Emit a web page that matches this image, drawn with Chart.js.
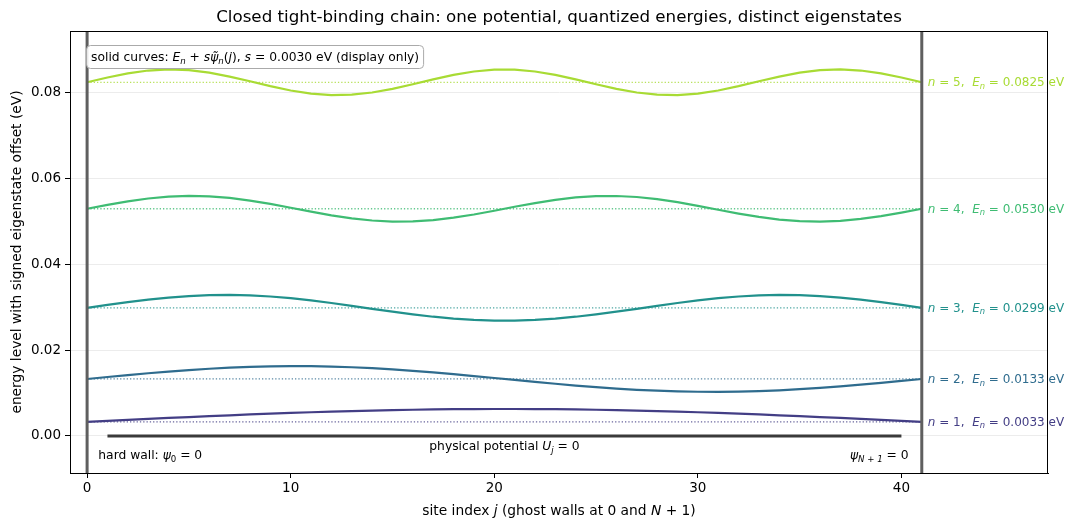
<!DOCTYPE html>
<html>
<head>
<meta charset="utf-8">
<script src="https://cdn.jsdelivr.net/npm/chart.js@4.4.1/dist/chart.umd.min.js"></script>
<style>
    body { margin: 0; background: #fff; }
    canvas { display: block; }
</style>
</head>
<body>
<canvas id="chainChart" width="1074" height="530"></canvas>
<script>
// Site indices j = 0 .. N+1 (N = 40, ghost walls at 0 and 41).
const sites = [0, 1, 2, 3, 4, 5, 6, 7, 8, 9, 10, 11, 12, 13, 14, 15, 16, 17, 18, 19, 20,
    21, 22, 23, 24, 25, 26, 27, 28, 29, 30, 31, 32, 33, 34, 35, 36, 37, 38, 39, 40, 41];

const modes = [1, 2, 3, 4, 5];
const energies = [0.0033, 0.0133, 0.0299, 0.0530, 0.0825];

// Solid curves: E_n + s * psi_n(j)
const curve1 = [0.0033, 0.00353, 0.00376, 0.00398, 0.00421, 0.00442, 0.00463, 0.00483, 0.00503, 0.00521,
    0.00538, 0.00554, 0.00569, 0.00582, 0.00594, 0.00604, 0.00612, 0.00619, 0.00625, 0.00628, 0.00630,
    0.00630, 0.00628, 0.00625, 0.00619, 0.00612, 0.00604, 0.00594, 0.00582, 0.00569, 0.00554,
    0.00538, 0.00521, 0.00503, 0.00483, 0.00463, 0.00442, 0.00421, 0.00398, 0.00376, 0.00353, 0.0033];
const curve2 = [0.0133, 0.01376, 0.01421, 0.01463, 0.01503, 0.01538, 0.01569, 0.01594, 0.01612, 0.01625,
    0.01630, 0.01628, 0.01619, 0.01604, 0.01582, 0.01554, 0.01521, 0.01483, 0.01442, 0.01398, 0.01353,
    0.01307, 0.01262, 0.01218, 0.01177, 0.01139, 0.01106, 0.01078, 0.01056, 0.01041, 0.01032,
    0.01030, 0.01036, 0.01048, 0.01066, 0.01092, 0.01122, 0.01157, 0.01197, 0.01240, 0.01284, 0.0133];
const curve3 = [0.0299, 0.03058, 0.03123, 0.03181, 0.03229, 0.03264, 0.03285, 0.03290, 0.03279, 0.03254,
    0.03214, 0.03163, 0.03102, 0.03036, 0.02967, 0.02900, 0.02837, 0.02782, 0.02738, 0.02708, 0.02692,
    0.02692, 0.02708, 0.02738, 0.02782, 0.02837, 0.02900, 0.02967, 0.03036, 0.03102, 0.03163,
    0.03214, 0.03254, 0.03279, 0.03290, 0.03285, 0.03264, 0.03229, 0.03181, 0.03123, 0.03058, 0.0299];
const curve4 = [0.0530, 0.05391, 0.05473, 0.05539, 0.05582, 0.05600, 0.05589, 0.05552, 0.05491, 0.05412,
    0.05323, 0.05232, 0.05147, 0.05076, 0.05026, 0.05002, 0.05006, 0.05036, 0.05092, 0.05167, 0.05254,
    0.05346, 0.05433, 0.05508, 0.05564, 0.05594, 0.05598, 0.05574, 0.05524, 0.05453, 0.05368,
    0.05277, 0.05188, 0.05109, 0.05048, 0.05011, 0.05000, 0.05018, 0.05062, 0.05127, 0.05210, 0.0530];
const curve5 = [0.0825, 0.08362, 0.08458, 0.08524, 0.08550, 0.08532, 0.08474, 0.08383, 0.08273, 0.08160,
    0.08059, 0.07986, 0.07952, 0.07961, 0.08012, 0.08097, 0.08204, 0.08318, 0.08423, 0.08502, 0.08545,
    0.08545, 0.08502, 0.08423, 0.08318, 0.08204, 0.08097, 0.08012, 0.07961, 0.07952, 0.07986,
    0.08059, 0.08160, 0.08273, 0.08383, 0.08474, 0.08532, 0.08550, 0.08524, 0.08458, 0.08362, 0.0825];
const curves = [curve1, curve2, curve3, curve4, curve5];

// Flat potential U_j = 0 over the physical sites, hard walls at 0 and N+1.
const potentialSites = [1, 40];
const potentialValues = [0, 0];
const wallSites = [0, 41];

const xTicks = [0, 10, 20, 30, 40];
const yTicks = [0, 0.02, 0.04, 0.06, 0.08];

const colors = ['#433e85', '#2f6c8e', '#21918c', '#3fbc73', '#a8db34'];
const fontFamily = '"DejaVu Sans", sans-serif';
const noteSize = 12.3;

Chart.defaults.font.family = fontFamily;
Chart.defaults.color = '#000';

// Draw a run of text pieces; style '' normal, 'i' italic, 'is' italic subscript, 's' subscript.
function drawRuns(ctx, x, y, runs, size, color, align) {
    const fontFor = (style) => {
        const sub = style.includes('s');
        const italic = style.includes('i');
        return (italic ? 'italic ' : '') + (sub ? size * 0.7 : size) + 'px ' + fontFamily;
    };
    let total = 0;
    runs.forEach(([text, style]) => {
        ctx.font = fontFor(style);
        total += ctx.measureText(text).width;
    });
    let cx = align === 'center' ? x - total / 2 : align === 'right' ? x - total : x;
    ctx.fillStyle = color;
    ctx.textAlign = 'left';
    ctx.textBaseline = 'alphabetic';
    runs.forEach(([text, style]) => {
        ctx.font = fontFor(style);
        const dy = style.includes('s') ? size * 0.22 : 0;
        ctx.fillText(text, cx, y + dy);
        cx += ctx.measureText(text).width;
    });
    return total;
}

const frameAndText = {
    id: 'frameAndText',
    afterDatasetsDraw(chart) {
        const { ctx, chartArea, scales } = chart;
        const xs = scales.x;
        const ys = scales.y;

        ctx.save();
        // hard walls
        ctx.strokeStyle = '#5f5f5f';
        ctx.lineWidth = 3;
        wallSites.forEach((w) => {
            const px = xs.getPixelForValue(w);
            ctx.beginPath();
            ctx.moveTo(px, chartArea.top);
            ctx.lineTo(px, chartArea.bottom);
            ctx.stroke();
        });

        // level labels
        modes.forEach((n, i) => {
            const px = xs.getPixelForValue(41) + 6;
            const py = ys.getPixelForValue(energies[i]) + 4;
            drawRuns(ctx, px, py, [
                ['n', 'i'], [' = ' + n + ',  ', ''], ['E', 'i'], ['n', 'is'],
                [' = ' + energies[i].toFixed(4) + ' eV', '']
            ], 12, colors[i], 'left');
        });

        // info box
        const bx = xs.getPixelForValue(0) - 1;
        const by = chartArea.top + 14;
        ctx.fillStyle = 'rgba(255,255,255,0.9)';
        ctx.strokeStyle = '#aaaaaa';
        ctx.lineWidth = 1;
        ctx.beginPath();
        ctx.roundRect(bx + 0.5, by + 0.5, 337, 23, 4);
        ctx.fill();
        ctx.stroke();
        drawRuns(ctx, bx + 5, by + 16, [
            ['solid curves: ', ''], ['E', 'i'], ['n', 'is'], [' + ', ''], ['s', 'i'], ['\u03C8\u0303', 'i'],
            ['n', 'is'], ['(', ''], ['j', 'i'], ['), ', ''], ['s', 'i'], [' = 0.0030 eV (display only)', '']
        ], noteSize, '#000', 'left');

        // wall and potential notes
        drawRuns(ctx, xs.getPixelForValue(0.55), ys.getPixelForValue(0) + 23, [
            ['hard wall: ', ''], ['\u03C8', 'i'], ['0', 's'], [' = 0', '']
        ], noteSize, '#000', 'left');
        drawRuns(ctx, xs.getPixelForValue(20.5), ys.getPixelForValue(0) + 14, [
            ['physical potential ', ''], ['U', 'i'], ['j', 'is'], [' = 0', '']
        ], noteSize, '#000', 'center');
        drawRuns(ctx, xs.getPixelForValue(40.35), ys.getPixelForValue(0) + 23, [
            ['\u03C8', 'i'], ['N + 1', 'is'], [' = 0', '']
        ], noteSize, '#000', 'right');

        // frame
        ctx.strokeStyle = '#000';
        ctx.lineWidth = 1;
        ctx.strokeRect(chartArea.left + 0.5, chartArea.top + 0.5,
            chartArea.right - chartArea.left - 1, chartArea.bottom - chartArea.top);

        // title and axis labels
        drawRuns(ctx, (chartArea.left + chartArea.right) / 2, 22, [
            ['Closed tight-binding chain: one potential, quantized energies, distinct eigenstates', '']
        ], 16.7, '#000', 'center');
        drawRuns(ctx, (chartArea.left + chartArea.right) / 2, 515, [
            ['site index ', ''], ['j', 'i'], [' (ghost walls at 0 and ', ''], ['N', 'i'], [' + 1)', '']
        ], 13.8, '#000', 'center');
        ctx.translate(21, (chartArea.top + chartArea.bottom) / 2);
        ctx.rotate(-Math.PI / 2);
        drawRuns(ctx, 0, 0, [['energy level with signed eigenstate offset (eV)', '']], 13.8, '#000', 'center');
        ctx.restore();
    }
};

const datasets = [];
modes.forEach((n, i) => {
    datasets.push({
        label: 'level ' + n,
        data: [{ x: wallSites[0], y: energies[i] }, { x: wallSites[1], y: energies[i] }],
        borderColor: colors[i] + 'cc',
        borderWidth: 1.3,
        borderDash: [1.3, 2],
        pointRadius: 0,
        order: 3
    });
});
modes.forEach((n, i) => {
    datasets.push({
        label: 'state ' + n,
        data: sites.map((j, k) => ({ x: j, y: curves[i][k] })),
        borderColor: colors[i],
        borderWidth: 2.2,
        pointRadius: 0,
        tension: 0,
        order: 2
    });
});
datasets.push({
    label: 'potential',
    data: potentialSites.map((j, k) => ({ x: j, y: potentialValues[k] })),
    borderColor: '#3a3a3a',
    borderWidth: 3,
    pointRadius: 0,
    order: 1
});

new Chart(document.getElementById('chainChart').getContext('2d'), {
    type: 'line',
    data: { datasets: datasets },
    options: {
        responsive: false,
        animation: false,
        devicePixelRatio: 1,
        layout: { padding: { left: 0, right: 26, top: 31, bottom: 0 } },
        plugins: {
            legend: { display: false },
            tooltip: { enabled: false },
            title: { display: false }
        },
        scales: {
            x: {
                type: 'linear',
                min: -0.84,
                max: 47.2,
                afterFit: (scale) => { scale.height = 57; },
                afterBuildTicks: (scale) => { scale.ticks = xTicks.map(v => ({ value: v })); },
                ticks: { font: { size: 13.5 }, padding: 2, maxRotation: 0, color: '#000' },
                grid: { drawOnChartArea: false, drawTicks: true, tickLength: 5, tickColor: '#000' },
                border: { display: true, color: '#000', width: 1 }
            },
            y: {
                type: 'linear',
                min: -0.00863,
                max: 0.09446,
                afterFit: (scale) => { scale.width = 70; },
                afterBuildTicks: (scale) => { scale.ticks = yTicks.map(v => ({ value: v })); },
                ticks: {
                    font: { size: 13.5 },
                    padding: 4,
                    color: '#000',
                    callback: (v) => v.toFixed(2)
                },
                grid: { color: '#ececec', lineWidth: 1, tickLength: 5, tickColor: '#000' },
                border: { display: true, color: '#000', width: 1 }
            }
        }
    },
    plugins: [frameAndText]
});
</script>
</body>
</html>
